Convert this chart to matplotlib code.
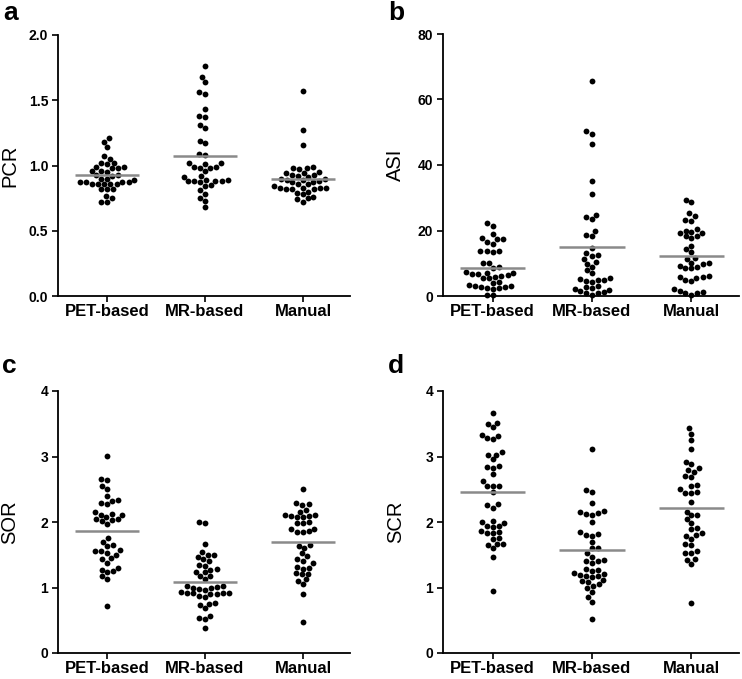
import numpy as np
import pandas as pd
import matplotlib
matplotlib.use("Agg")
import matplotlib.pyplot as plt
import seaborn as sns

plt.rcParams['font.family'] = ['Liberation Sans', 'DejaVu Sans']

groups = ["PET-based", "MR-based", "Manual"]

# values (approximate)
pcr_pet = [1.21, 1.18, 1.14, 1.07, 1.05, 1.02, 1.02, 1.01, 0.99, 0.99, 0.98, 0.98,
           0.96, 0.96, 0.95, 0.93, 0.93, 0.92, 0.90, 0.90, 0.89, 0.87, 0.87, 0.87,
           0.87, 0.86, 0.86, 0.86, 0.86, 0.86, 0.82, 0.82, 0.82, 0.77, 0.75, 0.72, 0.72]
pcr_mr = [1.76, 1.68, 1.64, 1.56, 1.55, 1.43, 1.38, 1.37, 1.31, 1.29, 1.19, 1.17,
          1.09, 1.08, 1.02, 1.02, 1.01, 0.99, 0.99, 0.98, 0.98, 0.96, 0.92, 0.91,
          0.89, 0.89, 0.88, 0.88, 0.88, 0.88, 0.87, 0.85, 0.84, 0.81, 0.78, 0.75, 0.73, 0.68]
pcr_man = [1.57, 1.27, 1.16, 0.99, 0.98, 0.98, 0.97, 0.95, 0.94, 0.94, 0.93, 0.93,
           0.92, 0.91, 0.90, 0.90, 0.89, 0.89, 0.88, 0.87, 0.87, 0.86, 0.86, 0.84,
           0.83, 0.83, 0.83, 0.83, 0.82, 0.82, 0.82, 0.80, 0.79, 0.78, 0.76, 0.75, 0.74, 0.72]

asi_pet = [22.3, 21.5, 19.0, 17.7, 17.5, 17.3, 16.6, 16.0, 13.7, 13.6, 13.5, 13.8,
           10.2, 10.1, 8.9, 8.7, 7.3, 7.1, 7.0, 6.8, 6.6, 6.3, 6.0, 5.8, 5.6, 5.5,
           4.2, 4.0, 3.4, 3.2, 3.0, 2.8, 2.6, 2.4, 2.3, 2.2, 0.3, 0.2]
asi_mr = [65.8, 50.3, 49.6, 46.3, 35.0, 31.1, 24.8, 24.2, 23.5, 20.0, 18.7, 18.4,
          14.7, 13.0, 12.6, 12.3, 11.3, 10.4, 9.9, 8.9, 8.0, 6.9, 5.6, 5.3, 5.0, 4.9,
          4.7, 4.2, 3.0, 2.6, 2.3, 2.0, 1.8, 1.5, 1.2, 1.0, 0.8, 0.3]
asi_man = [29.3, 28.6, 25.4, 24.5, 23.2, 23.0, 20.5, 20.0, 19.6, 19.3, 19.1, 18.4,
           18.2, 17.6, 15.4, 14.3, 13.3, 11.6, 11.3, 10.2, 10.0, 9.7, 9.3, 8.8, 8.6,
           8.4, 6.0, 5.8, 5.7, 5.6, 5.0, 4.6, 2.0, 1.6, 1.3, 1.0, 0.8, 0.4]

sor_pet = [3.01, 2.66, 2.64, 2.55, 2.50, 2.39, 2.33, 2.32, 2.29, 2.27, 2.15, 2.12,
           2.11, 2.10, 2.08, 2.04, 2.04, 2.03, 2.02, 1.97, 1.75, 1.70, 1.65, 1.63,
           1.57, 1.56, 1.55, 1.53, 1.50, 1.45, 1.44, 1.38, 1.30, 1.27, 1.25, 1.23,
           1.17, 1.13, 0.71]
sor_mr = [2.00, 1.99, 1.66, 1.54, 1.50, 1.49, 1.47, 1.43, 1.40, 1.35, 1.33, 1.28,
          1.27, 1.24, 1.23, 1.18, 1.17, 1.13, 1.03, 1.02, 1.01, 1.00, 0.99, 0.97,
          0.96, 0.93, 0.92, 0.92, 0.91, 0.91, 0.90, 0.90, 0.87, 0.86, 0.76, 0.75,
          0.74, 0.68, 0.57, 0.54, 0.52, 0.38]
sor_man = [2.51, 2.29, 2.27, 2.26, 2.19, 2.16, 2.10, 2.10, 2.09, 2.09, 2.08, 2.08,
           2.00, 1.99, 1.99, 1.90, 1.89, 1.86, 1.85, 1.84, 1.65, 1.64, 1.61, 1.53,
           1.48, 1.43, 1.41, 1.37, 1.31, 1.30, 1.29, 1.22, 1.21, 1.20, 1.13, 1.10,
           1.05, 0.90, 0.48]

scr_pet = [3.67, 3.51, 3.50, 3.45, 3.33, 3.32, 3.28, 3.27, 3.07, 3.03, 3.02, 2.96,
           2.85, 2.84, 2.83, 2.73, 2.62, 2.55, 2.55, 2.55, 2.46, 2.27, 2.26, 2.22,
           2.02, 2.00, 1.99, 1.94, 1.94, 1.93, 1.87, 1.84, 1.83, 1.83, 1.75, 1.74,
           1.67, 1.66, 1.65, 1.60, 1.47, 0.94]
scr_mr = [3.12, 2.49, 2.46, 2.29, 2.17, 2.15, 2.14, 2.12, 2.11, 2.00, 1.84, 1.82,
          1.80, 1.79, 1.69, 1.61, 1.60, 1.53, 1.47, 1.42, 1.41, 1.40, 1.38, 1.28,
          1.27, 1.25, 1.22, 1.21, 1.19, 1.18, 1.17, 1.16, 1.11, 1.10, 1.09, 1.05,
          1.03, 0.99, 0.93, 0.85, 0.78, 0.52]
scr_man = [3.43, 3.35, 3.25, 3.11, 2.92, 2.89, 2.82, 2.79, 2.76, 2.70, 2.68, 2.57,
           2.55, 2.50, 2.46, 2.45, 2.44, 2.31, 2.16, 2.10, 2.10, 2.04, 1.98, 1.91,
           1.89, 1.83, 1.80, 1.79, 1.74, 1.66, 1.65, 1.56, 1.53, 1.52, 1.43, 1.42,
           1.36, 0.77]

# group means (grey bars)
pcr_mean = [0.925, 1.07, 0.90]
asi_mean = [8.6, 15.0, 12.3]
sor_mean = [1.87, 1.09, 1.69]
scr_mean = [2.46, 1.58, 2.21]

panels = [
    ("a", "PCR", [pcr_pet, pcr_mr, pcr_man], pcr_mean, [0, 0.5, 1.0, 1.5, 2.0], "%.1f"),
    ("b", "ASI", [asi_pet, asi_mr, asi_man], asi_mean, [0, 20, 40, 60, 80], "%d"),
    ("c", "SOR", [sor_pet, sor_mr, sor_man], sor_mean, [0, 1, 2, 3, 4], "%d"),
    ("d", "SCR", [scr_pet, scr_mr, scr_man], scr_mean, [0, 1, 2, 3, 4], "%d"),
]

W, H = 742, 679
fig = plt.figure(figsize=(W / 100, H / 100), dpi=100)

# axes boxes in pixels: left, top(of y max), right, bottom(y=0)
boxes = [(58, 35, 350, 296), (443, 34, 739, 296),
         (58, 391, 350, 653), (443, 391, 739, 653)]
letter_pos = [(3, 20), (388, 20), (2, 373), (388, 373)]
label_right = [19, 405, 19, 405]   # right edge of rotated y label, px

for k, (letter, name, data, means, yt, fmt) in enumerate(panels):
    l, t, r, b = boxes[k]
    ax = fig.add_axes([l / W, 1 - b / H, (r - l) / W, (b - t) / H])
    df = pd.DataFrame({
        "group": np.repeat(groups, [len(d) for d in data]),
        "value": np.concatenate(data),
    })
    sns.swarmplot(data=df, x="group", y="value", order=groups, color="black",
                  size=4.2, linewidth=0, ax=ax)
    for c in ax.collections:
        c.set_clip_on(False)
    for i, m in enumerate(means):
        ax.hlines(m, i - 0.33, i + 0.33, color="#8a8a8a", lw=1.8, zorder=5)
    ax.set_xlim(-0.5, 2.48)
    ax.set_ylim(yt[0], yt[-1])
    ax.set_yticks(yt)
    ax.yaxis.set_major_formatter(matplotlib.ticker.FormatStrFormatter(fmt))
    ax.set_xticks(range(3))
    ax.set_xticklabels(groups, fontsize=12, fontweight="bold")
    for lab in ax.get_yticklabels():
        lab.set_fontsize(10)
        lab.set_fontweight("bold")
    ax.tick_params(axis="both", direction="out", length=4, width=1.2, color="black")
    ax.tick_params(axis="x", pad=1.5)
    ax.tick_params(axis="y", pad=3)
    ax.spines["top"].set_visible(False)
    ax.spines["right"].set_visible(False)
    ax.spines["left"].set_linewidth(1.3)
    ax.spines["bottom"].set_linewidth(1.3)
    ax.set_xlabel("")
    ax.set_ylabel(name, fontsize=14.5)
    ax.yaxis.set_label_coords((label_right[k] - l) / (r - l), 0.5)
    lx, ly = letter_pos[k]
    fig.text(lx / W, 1 - ly / H, letter, fontsize=19, fontweight="bold",
             ha="left", va="baseline")

fig.savefig("out.png", dpi=100)
